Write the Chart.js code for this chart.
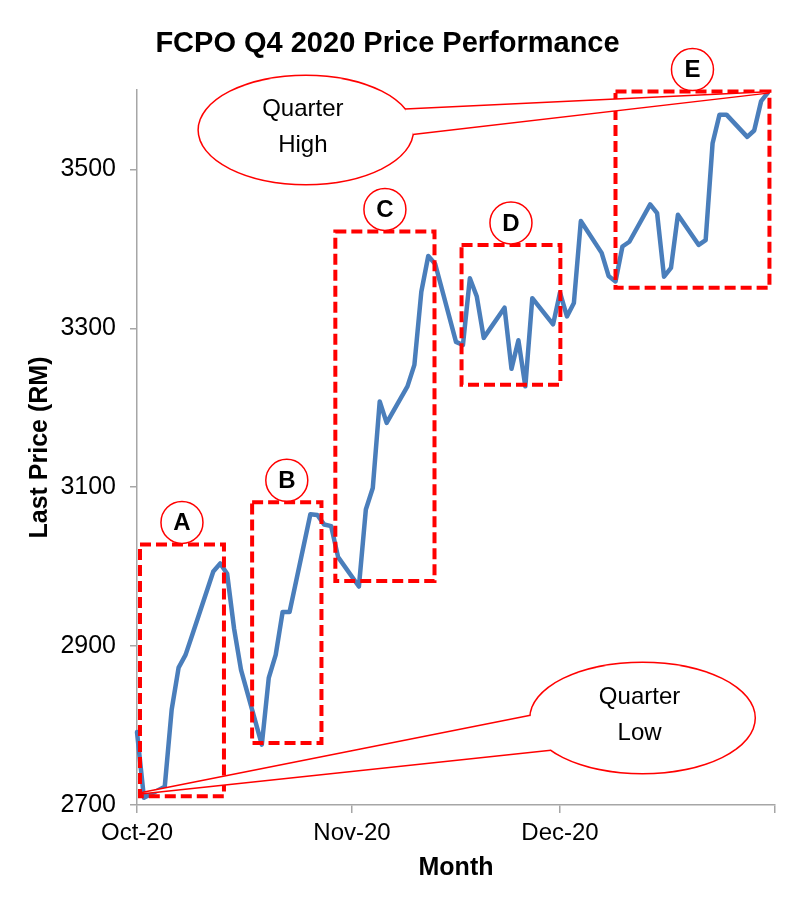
<!DOCTYPE html>
<html><head><meta charset="utf-8">
<script src="https://cdn.jsdelivr.net/npm/chart.js@4.4.0/dist/chart.umd.min.js"></script>
<style>html,body{margin:0;padding:0;background:#fff}#wrap{width:800px;height:916px;position:relative}</style>
</head><body><div id="wrap"><canvas id="c"></canvas></div>
<script>
const FONT = "'Liberation Sans', Arial, sans-serif";

const dates = [
 '2020-10-01','2020-10-02','2020-10-05','2020-10-06','2020-10-07','2020-10-08','2020-10-09',
 '2020-10-12','2020-10-13','2020-10-14','2020-10-15','2020-10-16','2020-10-19','2020-10-20',
 '2020-10-21','2020-10-22','2020-10-23','2020-10-26','2020-10-27','2020-10-28','2020-10-29','2020-10-30',
 '2020-11-02','2020-11-03','2020-11-04','2020-11-05','2020-11-06','2020-11-09','2020-11-10',
 '2020-11-11','2020-11-12','2020-11-13','2020-11-16','2020-11-17','2020-11-18','2020-11-19',
 '2020-11-20','2020-11-23','2020-11-24','2020-11-25','2020-11-26','2020-11-27','2020-11-30',
 '2020-12-01','2020-12-02','2020-12-03','2020-12-04','2020-12-07','2020-12-08','2020-12-09',
 '2020-12-10','2020-12-11','2020-12-14','2020-12-15','2020-12-16','2020-12-17','2020-12-18',
 '2020-12-21','2020-12-22','2020-12-23','2020-12-24','2020-12-25','2020-12-28','2020-12-29',
 '2020-12-30','2020-12-31'
];
const prices = [
 2792, 2709, 2723, 2820, 2873, 2889, 2915, 2994, 3004, 2991, 2922, 2870, 2776, 2860, 2889, 2943, 2943, 3066, 3065, 3053, 3051, 3012,
 2975, 3072, 3099, 3208, 3181, 3227, 3254, 3346, 3391, 3381, 3283, 3279, 3363, 3340, 3288, 3326, 3249, 3285, 3227, 3338, 3305,
 3345, 3315, 3332, 3435, 3395, 3366, 3359, 3403, 3409, 3456, 3445, 3365, 3376, 3443, 3405, 3411, 3533, 3569, 3569, 3541, 3549, 3586, 3597
];
const xTickDays = [0, 31, 61, 92];
const xTickLabels = ['Oct-20', 'Nov-20', 'Dec-20', ''];
const yTicks = [2700, 2900, 3100, 3300, 3500];

// annotation zones (x in days from 1 Oct 2020, y in price)
const zones = [
 {label:'A', x0:0.43, x1:12.54, y0:2711, y1:3028},
 {label:'B', x0:16.6, x1:26.6, y0:2778, y1:3081},
 {label:'C', x0:28.6, x1:42.9, y0:2982, y1:3422},
 {label:'D', x0:46.8, x1:61.05, y0:3229, y1:3405},
 {label:'E', x0:69.0, x1:91.2, y0:3351, y1:3598}
];
const callouts = [
 {lines:['Quarter','High'], cx:24.35, cy:3549.6, tipX:91, tipY:3597, a1:-22, a2:4, rx:107, ry:54},
 {lines:['Quarter','Low'], cx:72.9, cy:2809.5, tipX:0.86, tipY:2715, a1:145, a2:182, rx:112, ry:55}
];

const start = Date.UTC(2020, 9, 1);
const points = dates.map((d, i) => ({x: (Date.parse(d + 'T00:00:00Z') - start) / 86400000, y: prices[i]}));

const annot = {
  id: 'annot',
  afterDatasetsDraw(chart) {
    const {ctx, scales:{x, y}} = chart;
    ctx.save();
    zones.forEach(z => {
      const l = x.getPixelForValue(z.x0), r = x.getPixelForValue(z.x1);
      const t = y.getPixelForValue(z.y1), b = y.getPixelForValue(z.y0);
      ctx.setLineDash([11, 5]);
      ctx.lineWidth = 4;
      ctx.strokeStyle = '#ff0000';
      ctx.strokeRect(l, t, r - l, b - t);
      ctx.setLineDash([]);
      const cx = (l + r) / 2, cy = t - 22;
      ctx.beginPath();
      ctx.arc(cx, cy, 21, 0, Math.PI * 2);
      ctx.fillStyle = '#fff';
      ctx.fill();
      ctx.lineWidth = 1.5;
      ctx.stroke();
      ctx.fillStyle = '#000';
      ctx.font = 'bold 24px ' + FONT;
      ctx.textAlign = 'center';
      ctx.textBaseline = 'middle';
      ctx.fillText(z.label, cx, cy + 1);
    });
    callouts.forEach(c => {
      const cx = x.getPixelForValue(c.cx), cy = y.getPixelForValue(c.cy);
      const tx = x.getPixelForValue(c.tipX), ty = y.getPixelForValue(c.tipY);
      const p = a => [cx + c.rx * Math.cos(a * Math.PI / 180), cy + c.ry * Math.sin(a * Math.PI / 180)];
      const b1 = p(c.a1), b2 = p(c.a2);
      const ell = () => { ctx.beginPath(); ctx.ellipse(cx, cy, c.rx, c.ry, 0, 0, Math.PI * 2); ctx.closePath(); };
      const wedge = () => { ctx.beginPath(); ctx.moveTo(b1[0], b1[1]); ctx.lineTo(tx, ty); ctx.lineTo(b2[0], b2[1]); ctx.closePath(); };
      ctx.strokeStyle = '#ff0000';
      ctx.lineWidth = 3;
      ctx.lineJoin = 'round';
      ell(); ctx.stroke();
      wedge(); ctx.stroke();
      ctx.fillStyle = '#fff';
      ell(); ctx.fill();
      wedge(); ctx.fill();
      ctx.fillStyle = '#000';
      ctx.font = '24px ' + FONT;
      ctx.textAlign = 'center';
      ctx.textBaseline = 'middle';
      ctx.fillText(c.lines[0], cx - 3, cy - 21);
      ctx.fillText(c.lines[1], cx - 3, cy + 15);
    });
    ctx.restore();
  }
};

new Chart(document.getElementById('c'), {
  type: 'line',
  data: {
    datasets: [{
      data: points,
      borderColor: '#4a7ebb',
      borderWidth: 4.5,
      pointRadius: 0,
      tension: 0,
      borderJoinStyle: 'round',
      borderCapStyle: 'round',
      clip: false
    }]
  },
  options: {
    responsive: true,
    maintainAspectRatio: false,
    animation: false,
    layout: {padding: {left: 0, right: 25, top: 0, bottom: 0}},
    plugins: {
      legend: {display: false},
      tooltip: {enabled: false},
      title: {
        display: true,
        text: 'FCPO Q4 2020 Price Performance',
        color: '#000',
        font: {family: FONT, size: 29, weight: 'bold', lineHeight: 1.2},
        padding: {top: 27, bottom: 28.2}
      }
    },
    scales: {
      x: {
        type: 'linear',
        min: 0, max: 92,
        afterBuildTicks: s => { s.ticks = xTickDays.map(v => ({value: v})); },
        afterFit: s => { s.height = 111; },
        ticks: {
          autoSkip: false, maxRotation: 0, minRotation: 0,
          callback: (v, i) => xTickLabels[i],
          color: '#000', font: {family: FONT, size: 24}, padding: 6
        },
        grid: {drawOnChartArea: false, drawTicks: true, tickLength: 8, color: '#a6a6a6', lineWidth: 1.5},
        border: {color: '#a6a6a6', width: 1.5},
        title: {display: true, text: 'Month', color: '#000', font: {family: FONT, size: 25, weight: 'bold', lineHeight: 1.2}, padding: {top: 0, bottom: 33}}
      },
      y: {
        type: 'linear',
        min: 2700, max: 3600,
        afterBuildTicks: s => { s.ticks = yTicks.map(v => ({value: v})); },
        afterFit: s => { s.width = 137; },
        ticks: {color: '#000', font: {family: FONT, size: 25}, padding: 14, callback: v => String(v)},
        grid: {drawOnChartArea: false, drawTicks: true, tickLength: 7, color: '#a6a6a6', lineWidth: 1.5},
        border: {color: '#a6a6a6', width: 1.5},
        title: {display: true, text: 'Last Price (RM)', color: '#000', font: {family: FONT, size: 25, weight: 'bold', lineHeight: 1.2}, padding: {top: 25, bottom: 0}}
      }
    }
  },
  plugins: [annot]
});
</script>
</body></html>
